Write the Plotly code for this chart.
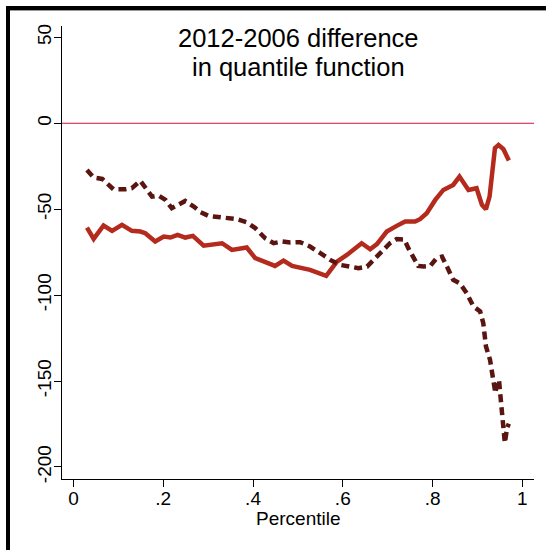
import plotly.graph_objects as go

# ---- data ----
solid_x = [0.030, 0.045, 0.067, 0.086, 0.108, 0.130, 0.149, 0.160, 0.182, 0.201,
           0.216, 0.232, 0.249, 0.266, 0.290, 0.312, 0.331, 0.353, 0.372, 0.386,
           0.405, 0.427, 0.449, 0.468, 0.487, 0.527, 0.563, 0.587, 0.609, 0.642,
           0.661, 0.676, 0.698, 0.720, 0.739, 0.761, 0.772, 0.787, 0.806, 0.824,
           0.846, 0.860, 0.880, 0.898, 0.910, 0.919, 0.927, 0.939, 0.947, 0.958,
           0.970]
solid_y = [-60.7, -67.3, -59.5, -62.6, -59.1, -62.6, -63.0, -64.0, -68.8, -65.9,
           -66.5, -64.9, -66.5, -65.5, -71.2, -70.8, -69.8, -73.7, -72.7, -72.3,
           -78.5, -80.5, -83.0, -79.9, -83.0, -85.3, -88.8, -80.5, -76.6, -69.8,
           -73.3, -70.3, -63.0, -59.7, -57.2, -57.2, -55.8, -52.3, -44.6, -38.8,
           -35.9, -31.0, -38.8, -37.8, -47.5, -50.0, -42.7, -14.5, -12.6, -15.1,
           -21.7]

dash_x = [0.030, 0.045, 0.064, 0.075, 0.089, 0.116, 0.130, 0.149, 0.164, 0.175,
          0.190, 0.205, 0.219, 0.231, 0.249, 0.268, 0.283, 0.301, 0.320, 0.346,
          0.364, 0.386, 0.405, 0.427, 0.446, 0.464, 0.483, 0.505, 0.527, 0.550,
          0.572, 0.594, 0.616, 0.635, 0.654, 0.668, 0.683, 0.705, 0.720, 0.737,
          0.746, 0.757, 0.768, 0.780, 0.795, 0.809, 0.821, 0.832, 0.846, 0.861,
          0.876, 0.891, 0.906, 0.913, 0.919, 0.928, 0.934, 0.940, 0.944, 0.948,
          0.951, 0.955, 0.958, 0.961, 0.966, 0.970]
dash_y = [-27.2, -31.6, -32.4, -34.9, -38.4, -38.4, -37.8, -33.5, -38.8, -42.7,
          -42.1, -44.6, -49.4, -47.5, -45.2, -48.5, -51.7, -53.9, -54.3, -55.2,
          -55.8, -57.6, -61.0, -66.9, -69.8, -68.8, -69.4, -69.2, -71.7, -75.6,
          -79.5, -82.4, -83.4, -84.3, -83.4, -79.5, -75.6, -69.8, -67.4, -67.6,
          -72.7, -78.5, -83.0, -83.4, -83.0, -78.5, -77.6, -83.4, -91.1, -93.2,
          -98.8, -106.6, -109.5, -116.3, -129.9, -137.6, -147.3, -157.0, -150.0, -149.5,
          -158.0, -168.6, -178.0, -186.0, -177.3, -174.8]

y_ticks = [50, 0, -50, -100, -150, -200]
y_tick_labels = ["50", "0", "-50", "-100", "-150", "-200"]
x_ticks = [0, 0.2, 0.4, 0.6, 0.8, 1]
x_tick_labels = ["0", ".2", ".4", ".6", ".8", "1"]
title_lines = ["2012-2006 difference", "in quantile function"]
x_title = "Percentile"

# ---- layout geometry (pixels) ----
W, H = 546, 550
L, R, T, B = 62, 534, 26, 479
pw, ph = R - L, B - T


def px_x(p):
    return (p - L) / pw


def px_y(p):
    return (B - p) / ph


FONT = "Liberation Sans, Arial, Helvetica, sans-serif"

fig = go.Figure()
fig.add_trace(go.Scatter(x=solid_x, y=solid_y, mode="lines",
                         line=dict(color="#b42a1c", width=4.5), showlegend=False))
fig.add_trace(go.Scatter(x=dash_x, y=dash_y, mode="lines",
                         line=dict(color="#5a1510", width=4.5, dash="8px,5px"),
                         showlegend=False))

shapes = [
    dict(type="line", xref="paper", yref="y", x0=0, x1=1, y0=0, y1=0,
         line=dict(color="#c8143c", width=1.2), layer="below"),
    dict(type="rect", xref="paper", yref="paper",
         x0=px_x(6), x1=px_x(10), y0=px_y(H + 10), y1=px_y(6),
         fillcolor="black", line=dict(width=0)),
    dict(type="rect", xref="paper", yref="paper",
         x0=px_x(6), x1=px_x(W + 5), y0=px_y(10), y1=px_y(6),
         fillcolor="black", line=dict(width=0)),
    dict(type="line", xref="paper", yref="paper",
         x0=px_x(10), x1=px_x(W + 5), y0=px_y(10.5), y1=px_y(10.5),
         line=dict(color="#999999", width=1)),
]

annotations = [
    dict(text=title_lines[0], xref="paper", yref="paper", x=0.5, y=px_y(37.5),
         xanchor="center", yanchor="middle", showarrow=False, borderpad=0,
         font=dict(size=25.5, family=FONT, color="black")),
    dict(text=title_lines[1], xref="paper", yref="paper", x=0.5, y=px_y(67),
         xanchor="center", yanchor="middle", showarrow=False, borderpad=0,
         font=dict(size=25.5, family=FONT, color="black")),
    dict(text=x_title, xref="paper", yref="paper", x=0.5, y=px_y(518),
         xanchor="center", yanchor="middle", showarrow=False,
         font=dict(size=19, family=FONT, color="black")),
]

fig.update_layout(
    width=W, height=H,
    margin=dict(l=L, r=W - R, t=T, b=H - B, pad=0),
    paper_bgcolor="white", plot_bgcolor="white",
    font=dict(family=FONT, color="black", size=19),
    shapes=shapes,
    annotations=annotations,
    xaxis=dict(range=[-0.0256, 1.026], tickvals=x_ticks, ticktext=x_tick_labels,
               showgrid=False, zeroline=False, showline=True, linecolor="black",
               linewidth=1.2, ticks="outside", ticklen=7, tickcolor="black",
               tickfont=dict(size=19), ticklabelstandoff=-5),
    yaxis=dict(range=[-207, 56.6], tickvals=y_ticks, ticktext=y_tick_labels,
               showgrid=False, zeroline=False, showline=True, linecolor="black",
               linewidth=1.2, ticks="outside", ticklen=7, tickcolor="black",
               tickangle=-90, tickfont=dict(size=19), ticklabelstandoff=-5),
)

fig.write_html("out.html", config={"displayModeBar": False},
               post_script="document.body.style.margin='0';")
